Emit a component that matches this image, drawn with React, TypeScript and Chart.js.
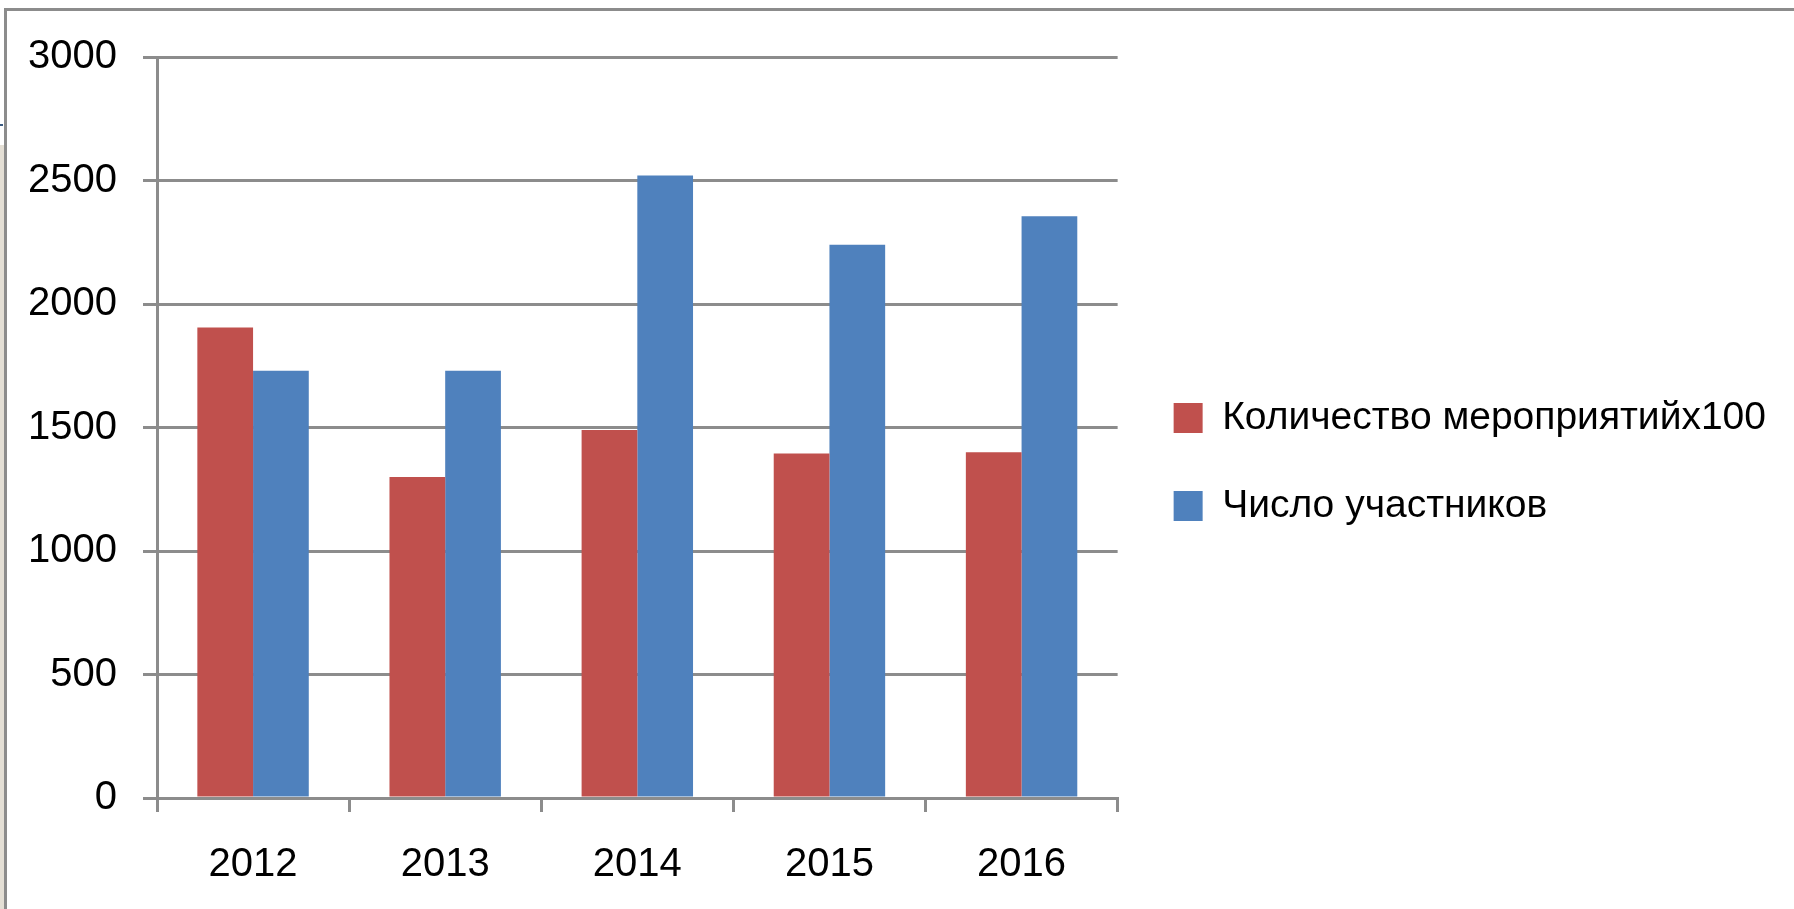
import React, { useEffect, useRef } from "react";
import { Chart, registerables } from "chart.js";

Chart.register(...registerables);

const categories = ["2012", "2013", "2014", "2015", "2016"];
const eventsX100 = [1905, 1300, 1490, 1395, 1400];
const participants = [1730, 1730, 2520, 2240, 2355];
const seriesLabels = ["Количество мероприятийх100", "Число участников"];
const yTickValues = [0, 500, 1000, 1500, 2000, 2500, 3000];

const FONT = "'Liberation Sans', Arial, sans-serif";
const GRID = "#8c8c8c";

const spacer = (axis: "x" | "y", position: string, size: number) => ({
  type: "linear",
  axis,
  position,
  display: true,
  grid: { display: false },
  ticks: { display: false },
  border: { display: false },
  afterFit: (s: any) => {
    if (axis === "x") s.height = size;
    else s.width = size;
  },
});

export default function App() {
  const ref = useRef<HTMLCanvasElement>(null);

  useEffect(() => {
    const chart = new Chart(ref.current!, {
      type: "bar",
      data: {
        labels: categories,
        datasets: [
          {
            label: seriesLabels[0],
            data: eventsX100,
            backgroundColor: "#C0504D",
            borderWidth: 0,
            categoryPercentage: 0.58,
            barPercentage: 1,
          },
          {
            label: seriesLabels[1],
            data: participants,
            backgroundColor: "#4F81BD",
            borderWidth: 0,
            categoryPercentage: 0.58,
            barPercentage: 1,
          },
        ],
      },
      options: {
        animation: false,
        responsive: false,
        maintainAspectRatio: false,
        layout: { padding: { top: 40, bottom: 25, left: 0, right: 18 } },
        plugins: {
          legend: {
            position: "right",
            maxWidth: 800,
            labels: {
              font: { family: FONT, size: 39 },
              color: "#000",
              boxWidth: 29,
              boxHeight: 30,
              padding: 49,
            },
          },
          tooltip: { enabled: false },
        },
        scales: {
          x: {
            grid: {
              display: true,
              drawOnChartArea: false,
              drawTicks: true,
              tickLength: 14,
              color: GRID,
              lineWidth: 3,
              offset: true,
            },
            border: { display: true, color: GRID, width: 3 },
            ticks: {
              font: { family: FONT, size: 40 },
              color: "#000",
              padding: 29,
            },
            afterFit: (s: any) => {
              s.height = 86;
            },
          },
          y: {
            min: 0,
            max: 3000,
            afterBuildTicks: (s: any) => {
              s.ticks = yTickValues.map((v) => ({ value: v }));
            },
            ticks: {
              font: { family: FONT, size: 40 },
              color: "#000",
              padding: 26,
              callback: (v: any) => String(v),
            },
            grid: { color: GRID, lineWidth: 3, tickLength: 14 },
            border: { display: true, color: GRID, width: 3 },
            afterFit: (s: any) => {
              s.width = 157;
            },
          },
          gapRight: spacer("y", "right", 7),
          gapTop: spacer("x", "top", 17),
        },
      } as any,
    });
    return () => chart.destroy();
  }, []);

  return (
    <div
      style={{
        position: "fixed",
        left: 0,
        top: 0,
        width: 1794,
        height: 909,
        background: "#ffffff",
        overflow: "hidden",
      }}
    >
      <div style={{ position: "absolute", left: 4, top: 8, right: 0, height: 3, background: GRID }} />
      <div style={{ position: "absolute", left: 4, top: 8, bottom: 0, width: 3, background: GRID }} />
      <div style={{ position: "absolute", left: 0, top: 145, bottom: 0, width: 4, background: "#e4dfd5" }} />
      <div style={{ position: "absolute", left: 0, top: 124, width: 3, height: 2, background: "#3a5a80" }} />
      <canvas
        ref={ref}
        width={1794}
        height={909}
        style={{ position: "absolute", left: 0, top: 0, width: 1794, height: 909 }}
      />
    </div>
  );
}
